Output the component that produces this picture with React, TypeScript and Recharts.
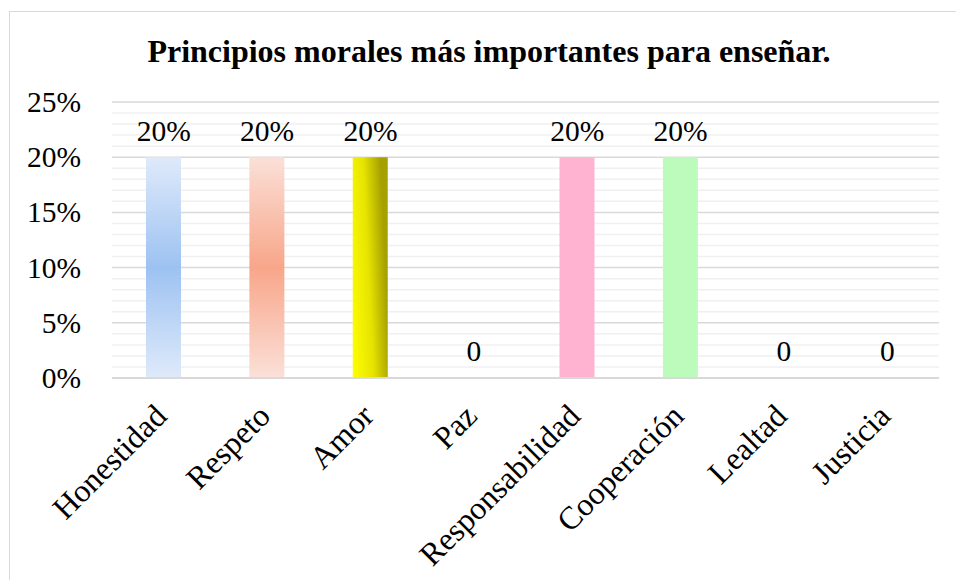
import { ComposedChart, Bar, Line, XAxis, YAxis, CartesianGrid, LabelList, Cell } from 'recharts';

const categories = ['Honestidad', 'Respeto', 'Amor', 'Paz', 'Responsabilidad', 'Cooperación', 'Lealtad', 'Justicia'];
const percentages = [20, 20, 20, 0, 20, 20, 0, 0];
const yTicks = [0, 5, 10, 15, 20, 25];
const minorTicks = [1, 2, 3, 4, 6, 7, 8, 9, 11, 12, 13, 14, 16, 17, 18, 19, 21, 22, 23, 24];
const barFills = [
  'url(#gradHonestidad)',
  'url(#gradRespeto)',
  'url(#gradAmor)',
  '#ffb3d1',
  '#ffb3d1',
  '#bdfbbd',
  '#bdfbbd',
  '#bdfbbd',
];

const data = categories.map((name, i) => ({ name, value: percentages[i] }));

const FONT = '"Liberation Serif", "Times New Roman", serif';

function CategoryTick({ x, y, payload }: any) {
  const ax = x + 5;
  const ay = y + 40;
  return (
    <text
      x={ax}
      y={ay}
      transform={`rotate(-45 ${ax} ${ay})`}
      textAnchor="end"
      fontFamily={FONT}
      fontSize={32}
      fill="#000"
    >
      {payload.value}
    </text>
  );
}

function PercentTick({ x, y, payload }: any) {
  return (
    <text x={x} y={y} dy={10} textAnchor="end" fontFamily={FONT} fontSize={29.5} fill="#000">
      {`${payload.value}%`}
    </text>
  );
}

function ValueLabel({ x, y, value }: any) {
  const zero = value === 0;
  return (
    <text x={x} y={y - (zero ? 17 : 16)} textAnchor="middle" fontFamily={FONT} fontSize={29.5} fill="#000">
      {zero ? '0' : `${value}%`}
    </text>
  );
}

export default function App() {
  return (
    <div
      style={{
        position: 'absolute',
        left: 0,
        top: 0,
        width: 956,
        height: 580,
        overflow: 'hidden',
        background: '#fff',
        fontFamily: FONT,
      }}
    >
      <div
        style={{
          position: 'absolute',
          left: 9,
          top: 11,
          width: 960,
          height: 600,
          border: '1px solid #d9d9d9',
          boxSizing: 'border-box',
        }}
      />
      <div
        style={{
          position: 'absolute',
          left: 9,
          top: 36,
          width: 960,
          textAlign: 'center',
          fontFamily: FONT,
          fontWeight: 'bold',
          fontSize: 32,
          lineHeight: '31px',
          color: '#000',
        }}
      >
        Principios morales más importantes para enseñar.
      </div>
      <div style={{ position: 'absolute', left: 0, top: 0 }}>
        <ComposedChart
          width={956}
          height={580}
          data={data}
          margin={{ top: 102, right: 17, bottom: 0, left: 0 }}
          barSize={35}
        >
          <defs>
            <linearGradient id="gradHonestidad" x1="0" y1="0" x2="0" y2="1">
              <stop offset="0%" stopColor="#dfeafa" />
              <stop offset="50%" stopColor="#9dc2f2" />
              <stop offset="100%" stopColor="#dfeafa" />
            </linearGradient>
            <linearGradient id="gradRespeto" x1="0" y1="0" x2="0" y2="1">
              <stop offset="0%" stopColor="#fbe0d8" />
              <stop offset="50%" stopColor="#f8a68a" />
              <stop offset="100%" stopColor="#fbe0d8" />
            </linearGradient>
            <linearGradient id="gradAmor" x1="0" y1="1" x2="1" y2="0.7">
              <stop offset="0%" stopColor="#ffff00" />
              <stop offset="55%" stopColor="#e6e300" />
              <stop offset="100%" stopColor="#a6a000" />
            </linearGradient>
          </defs>
          <CartesianGrid horizontalValues={minorTicks} vertical={false} stroke="#f0f0f0" strokeWidth={1.5} />
          <CartesianGrid vertical={false} stroke="#d9d9d9" strokeWidth={1.5} />
          <XAxis
            dataKey="name"
            interval={0}
            tick={<CategoryTick />}
            tickLine={false}
            tickSize={0}
            tickMargin={0}
            axisLine={{ stroke: '#d9d9d9', strokeWidth: 2 }}
            height={202}
          />
          <YAxis
            domain={[0, 25]}
            ticks={yTicks}
            interval={0}
            tick={<PercentTick />}
            tickLine={false}
            tickSize={0}
            tickMargin={31}
            axisLine={false}
            width={112}
          />
          <Bar dataKey="value" isAnimationActive={false}>
            {data.map((d, i) => (
              <Cell key={d.name} fill={barFills[i]} />
            ))}
          </Bar>
          <Line
            dataKey="value"
            stroke="none"
            dot={false}
            activeDot={false}
            isAnimationActive={false}
          >
            <LabelList dataKey="value" content={<ValueLabel />} />
          </Line>
        </ComposedChart>
      </div>
    </div>
  );
}
